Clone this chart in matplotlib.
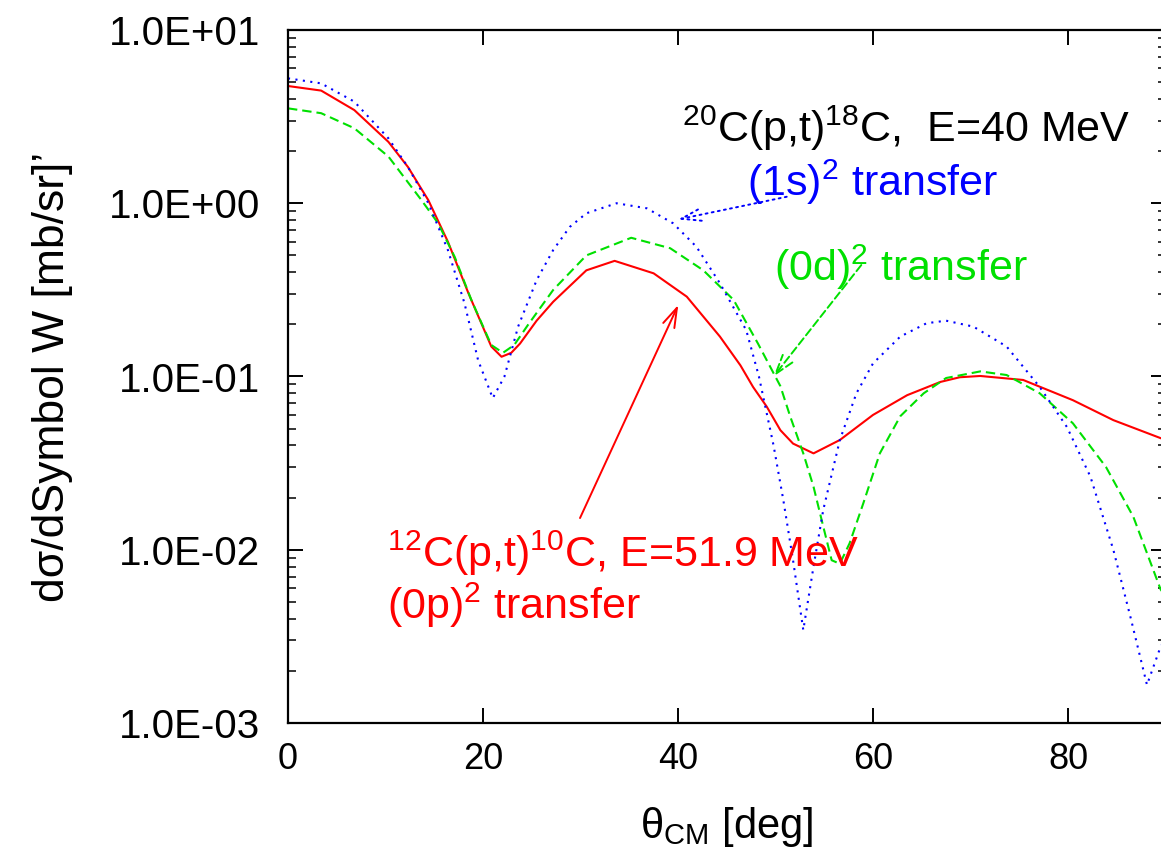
import matplotlib
matplotlib.use("Agg")
import matplotlib.pyplot as plt
from matplotlib.ticker import LogLocator, FixedLocator, NullFormatter, FixedFormatter

plt.rcParams['font.family'] = ['Liberation Sans', 'DejaVu Sans']
plt.rcParams['mathtext.fontset'] = 'custom'
plt.rcParams['mathtext.rm'] = 'Liberation Sans'
plt.rcParams['mathtext.it'] = 'Liberation Sans'
plt.rcParams['mathtext.default'] = 'regular'

# ---- data ----
red_x = [0, 3.4, 6.8, 10.3, 12.3, 14.4, 16.4, 18.5, 20.85, 21.9, 22.9, 23.8, 25.5,
         27.2, 30.6, 33.5, 37.5, 40.9, 44.3, 46.4, 47.7, 49.1, 50.5, 51.8, 53.9,
         56.6, 60.0, 63.5, 66.9, 68.9, 71.0, 75.4, 80.5, 84.65, 90]
red_y = [4.75, 4.47, 3.45, 2.26, 1.62, 1.04, 0.60, 0.303, 0.149, 0.130, 0.137, 0.155,
         0.21, 0.27, 0.41, 0.465, 0.394, 0.289, 0.17, 0.116, 0.087, 0.067, 0.049,
         0.041, 0.036, 0.043, 0.060, 0.078, 0.093, 0.099, 0.1007, 0.0955, 0.073,
         0.056, 0.043]

blue_x = [0, 3.4, 6.8, 10.3, 12.3, 14.4, 16.4, 18.1, 19.5, 21.0, 22.2, 23.6, 25.5,
          27.2, 28.9, 30.6, 33.7, 36.8, 39.5, 41.9, 44.3, 47.0, 48.3, 49.8, 50.8,
          51.8, 52.85, 53.9, 54.9, 56.6, 58.3, 60.0, 62.8, 65.5, 67.5, 70.3, 73.7,
          77.1, 79.9, 82.3, 84.65, 86.4, 88.1, 89.5, 90]
blue_y = [5.26, 4.92, 3.86, 2.37, 1.62, 1.0, 0.537, 0.265, 0.124, 0.075, 0.1, 0.194,
          0.36, 0.537, 0.73, 0.875, 1.0, 0.935, 0.766, 0.56, 0.345, 0.185, 0.1, 0.04,
          0.0194, 0.0087, 0.00344, 0.008, 0.017, 0.043, 0.08, 0.119, 0.17, 0.203,
          0.21, 0.194, 0.149, 0.087, 0.051, 0.0264, 0.01, 0.0041, 0.00166, 0.00276,
          0.003]

green_x = [0, 3.4, 6.8, 10.3, 13.7, 15.4, 17.1, 18.8, 20.85, 22.05, 23.2, 24.6, 27.2,
           30.6, 35.2, 39.2, 42.6, 45.7, 48.2, 50.5, 51.5, 52.85, 53.9, 54.9, 55.76,
           56.6, 57.6, 59.0, 60.7, 62.8, 65.2, 67.5, 71.0, 73.7, 77.1, 80.5, 83.9,
           86.7, 89.5, 90]
green_y = [3.53, 3.31, 2.71, 1.86, 1.04, 0.766, 0.49, 0.277, 0.152, 0.137, 0.152,
           0.198, 0.316, 0.50, 0.632, 0.55, 0.41, 0.277, 0.155, 0.088, 0.059, 0.036,
           0.0231, 0.0136, 0.0087, 0.0083, 0.0109, 0.0185, 0.036, 0.059, 0.08, 0.098,
           0.107, 0.102, 0.08, 0.0537, 0.030, 0.0155, 0.0059, 0.0054]

x_ticks = [0, 20, 40, 60, 80]
y_ticks = [1e-3, 1e-2, 1e-1, 1e0, 1e1]
y_tick_labels = ['1.0E-03', '1.0E-02', '1.0E-01', '1.0E+00', '1.0E+01']

RED, GREEN, BLUE = '#ff0000', '#00e000', '#0000ff'

fig = plt.figure(figsize=(11.61, 8.55), dpi=100)
ax = fig.add_axes([288 / 1161, 132 / 855, (1165.5 - 288) / 1161, 693 / 855])

ax.plot(red_x, red_y, color=RED, lw=1.5, ls='-')
ax.plot(green_x, green_y, color=GREEN, lw=1.5, ls=(0, (4.5, 2.4)))
ax.plot(blue_x, blue_y, color=BLUE, lw=1.5, ls=(0, (1, 2.6)))

ax.set_yscale('log')
ax.set_xlim(0, 90)
ax.set_ylim(1e-3, 1e1)

ax.xaxis.set_major_locator(FixedLocator(x_ticks))
ax.yaxis.set_major_locator(FixedLocator(y_ticks))
ax.yaxis.set_major_formatter(FixedFormatter(y_tick_labels))
ax.yaxis.set_minor_locator(LogLocator(base=10, subs=range(2, 10)))
ax.yaxis.set_minor_formatter(NullFormatter())

ax.tick_params(axis='both', which='major', direction='in', top=True, right=True,
               length=11, width=1.4)
ax.tick_params(axis='y', which='major', labelsize=29, pad=20)
ax.tick_params(axis='x', which='major', labelsize=26, pad=14)
ax.tick_params(axis='y', which='minor', direction='in', right=True, length=6, width=1.1)
for s in ax.spines.values():
    s.set_linewidth(1.6)

ax.set_xlabel(r'$\theta_{CM}$ [deg]', fontsize=30, labelpad=20)
ax.set_ylabel("dσ/dSymbol W [mb/sr]’", fontsize=32, labelpad=26)

TS = 31
ax.text(86.36, 2.257, r'$^{20}$C(p,t)$^{18}$C,  E=40 MeV', fontsize=TS, color='black',
        ha='right', va='baseline')
ax.text(47.1, 1.101, r'(1s)$^{2}$ transfer', fontsize=TS, color=BLUE, ha='left', va='baseline')
ax.text(49.8, 0.356, r'(0d)$^{2}$ transfer', fontsize=TS, color=GREEN, ha='left', va='baseline')
ax.text(10.2, 0.0080, r'$^{12}$C(p,t)$^{10}$C, E=51.9 MeV', fontsize=TS, color=RED,
        ha='left', va='baseline')
ax.text(10.2, 0.0040, r'(0p)$^{2}$ transfer', fontsize=TS, color=RED, ha='left', va='baseline')

AST = '->,head_length=0.7,head_width=0.22'
ax.annotate('', xy=(40.03, 0.807), xytext=(51.15, 1.09),
            arrowprops=dict(arrowstyle=AST, color=BLUE, lw=1.4, ls=(0, (1, 2.2)),
                            mutation_scale=20, shrinkA=0, shrinkB=0))
ax.annotate('', xy=(49.8, 0.1), xytext=(58.8, 0.44),
            arrowprops=dict(arrowstyle=AST, color=GREEN, lw=1.4, ls=(0, (4, 2)),
                            mutation_scale=20, shrinkA=0, shrinkB=0))
ax.annotate('', xy=(40.03, 0.259), xytext=(29.95, 0.01524),
            arrowprops=dict(arrowstyle=AST, color=RED, lw=1.4,
                            mutation_scale=20, shrinkA=0, shrinkB=0))

fig.savefig('out.png', dpi=100)
